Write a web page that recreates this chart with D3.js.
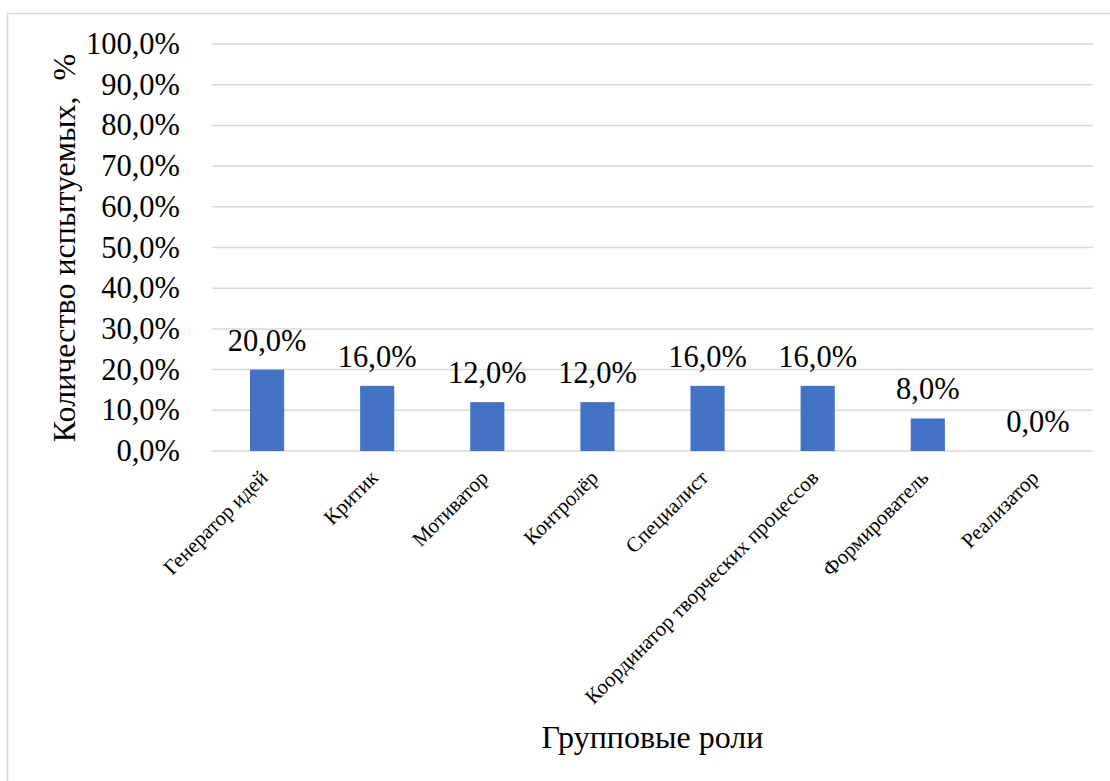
<!doctype html>
<html>
<head>
<meta charset="utf-8">
<script src="https://d3js.org/d3.v7.min.js"></script>
</head>
<body style="margin:0">
<script>
// data
var roles = ["Генератор идей", "Критик", "Мотиватор", "Контролёр", "Специалист",
             "Координатор творческих процессов", "Формирователь", "Реализатор"];
var shares = [20, 16, 12, 12, 16, 16, 8, 0];
var yTicks = [0, 10, 20, 30, 40, 50, 60, 70, 80, 90, 100];

var W = 1110, H = 781;
var plot = {left: 212, right: 1093, top: 44, bottom: 451};
var FONT = "'Liberation Serif'";

var svg = d3.select("body").append("svg")
  .attr("width", W).attr("height", H);

// chart border
svg.append("rect")
  .attr("x", 7.5).attr("y", 13.5)
  .attr("width", W).attr("height", H)
  .attr("fill", "#fff").attr("stroke", "#d9d9d9").attr("stroke-width", 1.5);

var x = d3.scaleBand().domain(roles).range([plot.left, plot.right]).paddingInner(0.69).paddingOuter(0.345);
var y = d3.scaleLinear().domain([0, 100]).range([plot.bottom, plot.top]);

var fmt = function(v) { return v.toFixed(1).replace(".", ",") + "%"; };

// gridlines
svg.append("g").selectAll("line").data(yTicks).join("line")
  .attr("x1", plot.left).attr("x2", plot.right)
  .attr("y1", d => y(d)).attr("y2", d => y(d))
  .attr("stroke", "#d9d9d9").attr("stroke-width", 1.5);

// y tick labels
svg.append("g").selectAll("text").data(yTicks).join("text")
  .attr("x", 180).attr("y", d => y(d) + 10)
  .attr("text-anchor", "end")
  .attr("font-size", 30.5)
  .style("font-family", FONT)
  .text(fmt);

// bars
svg.append("g").selectAll("rect").data(roles).join("rect")
  .attr("x", d => x(d))
  .attr("y", (d, i) => y(shares[i]))
  .attr("width", x.bandwidth())
  .attr("height", (d, i) => y(0) - y(shares[i]))
  .attr("fill", "#4472c4");

// value labels
svg.append("g").selectAll("text").data(roles).join("text")
  .attr("x", d => x(d) + x.bandwidth() / 2)
  .attr("y", (d, i) => y(shares[i]) - 19)
  .attr("text-anchor", "middle")
  .attr("font-size", 30.5)
  .style("font-family", FONT)
  .text((d, i) => fmt(shares[i]));

// category labels
svg.append("g").selectAll("text").data(roles).join("text")
  .attr("text-anchor", "end")
  .attr("font-size", 21)
  .style("font-family", FONT)
  .attr("transform", d => "translate(" + (x(d) + x.bandwidth() / 2 + 2) + "," + (plot.bottom + 28) + ") rotate(-45)")
  .text(d => d);

// axis titles
svg.append("text")
  .attr("x", (plot.left + plot.right) / 2).attr("y", 748)
  .attr("text-anchor", "middle")
  .attr("font-size", 32)
  .style("font-family", FONT)
  .text("Групповые роли");

svg.append("text")
  .attr("transform", "translate(75,248) rotate(-90)")
  .attr("text-anchor", "middle")
  .attr("font-size", 32)
  .style("font-family", FONT)
  .style("white-space", "pre")
  .text("Количество испытуемых,  %");
</script>
</body>
</html>
